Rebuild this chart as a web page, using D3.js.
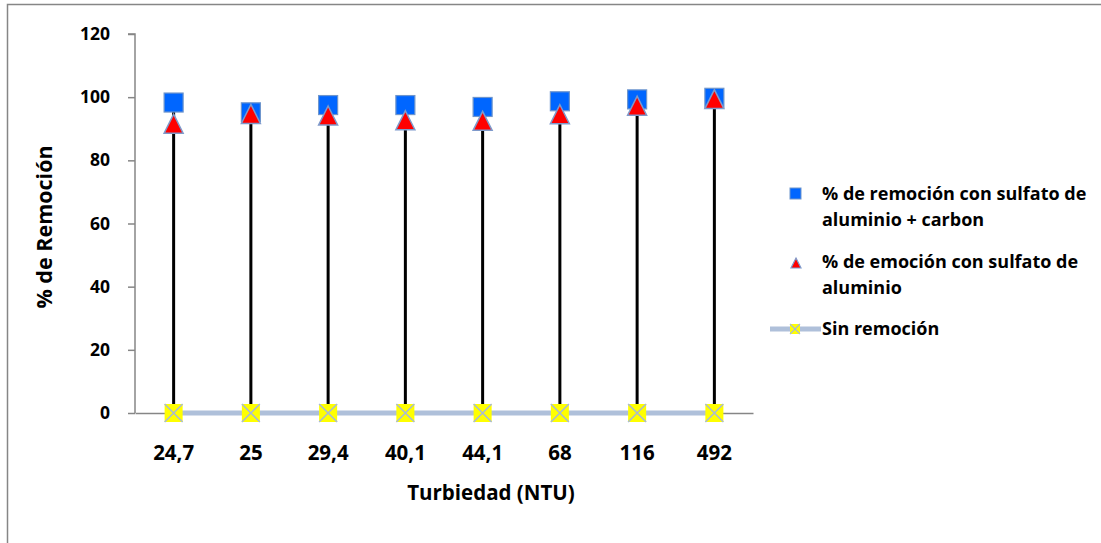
<!DOCTYPE html>
<html>
<head>
<meta charset="utf-8">
<script src="https://cdn.jsdelivr.net/npm/d3@7"></script>
<style>
  html, body { margin: 0; padding: 0; background: #fff; }
  svg { display: block; font-family: "Open Sans", sans-serif; font-weight: bold; }
</style>
</head>
<body>
<svg id="chart" width="1101" height="543"></svg>
<script>
// Turbidity levels (NTU) used as categories
const categories = ["24,7", "25", "29,4", "40,1", "44,1", "68", "116", "492"];
// % removal with aluminium sulfate + activated carbon
const conCarbon = [98.3, 95.2, 97.5, 97.5, 96.9, 98.7, 99.3, 99.8];
// % removal with aluminium sulfate only
const conSulfato = [91.6, 94.7, 94.2, 92.7, 92.5, 94.6, 97.3, 99.4];
// Baseline with no removal
const sinRemocion = [0, 0, 0, 0, 0, 0, 0, 0];
const yTicks = [0, 20, 40, 60, 80, 100, 120];

const legendLabels = [
  ["% de remoción con sulfato de", "aluminio + carbon"],
  ["% de emoción con sulfato de", "aluminio"],
  ["Sin remoción"]
];

const FONT = "'Open Sans', sans-serif";
const svg = d3.select("#chart");

// chart area frame
svg.append("rect")
  .attr("x", 7.5).attr("y", 4.5)
  .attr("width", 1110).attr("height", 560)
  .attr("fill", "none").attr("stroke", "#868686").attr("stroke-width", 1.5);

const plot = { left: 135, right: 753, top: 34, bottom: 413 };

const x = d3.scaleBand().domain(categories).range([plot.left, plot.right]);
const y = d3.scaleLinear().domain([0, 120]).range([plot.bottom, plot.top]);
const cx = d => x(d) + x.bandwidth() / 2;

// Y axis
const yAxis = svg.append("g")
  .attr("transform", `translate(${plot.left},0)`)
  .call(d3.axisLeft(y).tickValues(yTicks).tickSize(7).tickPadding(18));
yAxis.select(".domain").attr("stroke", "#868686").attr("stroke-width", 1.5)
  .attr("d", `M-7,${y(120)}H0V${y(0)}`);
yAxis.selectAll(".tick line").attr("stroke", "#868686").attr("stroke-width", 1.5);
yAxis.selectAll(".tick text").attr("font-size", 17.5).attr("font-weight", "bold")
  .attr("fill", "#000").attr("font-family", FONT);

// X axis
const xAxis = svg.append("g")
  .attr("transform", `translate(0,${plot.bottom})`)
  .call(d3.axisBottom(x).tickSize(0).tickPadding(32));
xAxis.select(".domain").attr("stroke", "#868686").attr("stroke-width", 1.5);
xAxis.selectAll(".tick text").attr("font-size", 20.5).attr("font-weight", "bold")
  .attr("fill", "#000").attr("font-family", FONT);

// Axis titles
svg.append("text")
  .attr("x", 491).attr("y", 500)
  .attr("text-anchor", "middle").attr("font-size", 20.5).text("Turbiedad (NTU)");
svg.append("text")
  .attr("transform", `translate(52,227) rotate(-90)`)
  .attr("text-anchor", "middle").attr("font-size", 21.5).text("% de Remoción");

// High-low lines between baseline and top series
svg.append("g").selectAll("line")
  .data(categories)
  .join("line")
  .attr("x1", d => cx(d)).attr("x2", d => cx(d))
  .attr("y1", (d, i) => y(d3.min([conCarbon[i], conSulfato[i], sinRemocion[i]])))
  .attr("y2", (d, i) => y(d3.max([conCarbon[i], conSulfato[i], sinRemocion[i]])))
  .attr("stroke", "#000").attr("stroke-width", 3);

// "Sin remoción" line
const line = d3.line().x((d, i) => cx(categories[i])).y(d => y(d));
svg.append("path").datum(sinRemocion)
  .attr("d", line).attr("fill", "none")
  .attr("stroke", "#AFC0DA").attr("stroke-width", 5);

const sq = 19;
// Square markers
svg.append("g").selectAll("rect")
  .data(conCarbon)
  .join("rect")
  .attr("x", (d, i) => cx(categories[i]) - sq / 2)
  .attr("y", d => y(d) - sq / 2)
  .attr("width", sq).attr("height", sq)
  .attr("fill", "#0066FF").attr("stroke", "#6E95CC").attr("stroke-width", 1.2);

// Triangle markers
const tri = (cxv, cyv, s) => `M${cxv},${cyv - s / 2}L${cxv + s / 2},${cyv + s / 2}L${cxv - s / 2},${cyv + s / 2}Z`;
svg.append("g").selectAll("path")
  .data(conSulfato)
  .join("path")
  .attr("d", (d, i) => tri(cx(categories[i]), y(d), 19))
  .attr("fill", "#FF0000").attr("stroke", "#7F9ACB").attr("stroke-width", 1.5);

// X markers on the baseline
const xm = 18;
const xGroup = svg.append("g").selectAll("g")
  .data(sinRemocion)
  .join("g")
  .attr("transform", (d, i) => `translate(${cx(categories[i])},${y(d)})`);
xGroup.append("rect")
  .attr("x", -xm / 2).attr("y", -xm / 2).attr("width", xm).attr("height", xm)
  .attr("fill", "#FFFF00");
xGroup.append("path")
  .attr("d", `M${-xm / 2},${-xm / 2}L${xm / 2},${xm / 2}M${xm / 2},${-xm / 2}L${-xm / 2},${xm / 2}`)
  .attr("stroke", "#A7B9D6").attr("stroke-width", 1.5);

// Legend
const legend = svg.append("g");
const lx = 822;
const entryY = [194, 262, 329];
legendLabels.forEach((lines, k) => {
  const t = legend.append("text").attr("x", lx).attr("y", entryY[k] + 6).attr("font-size", 18);
  lines.forEach((s, j) => t.append("tspan").attr("x", lx).attr("dy", j === 0 ? 0 : 26).text(s));
});
legend.append("rect")
  .attr("x", 790).attr("y", entryY[0] - 6).attr("width", 11).attr("height", 11)
  .attr("fill", "#0066FF").attr("stroke", "#6E95CC");
legend.append("path")
  .attr("d", tri(796, entryY[1] + 1, 10))
  .attr("fill", "#FF0000").attr("stroke", "#7F9ACB").attr("stroke-width", 1.2);
legend.append("line")
  .attr("x1", 770).attr("x2", 821).attr("y1", entryY[2]).attr("y2", entryY[2])
  .attr("stroke", "#AFC0DA").attr("stroke-width", 5);
legend.append("rect")
  .attr("x", 790).attr("y", entryY[2] - 5).attr("width", 10).attr("height", 10)
  .attr("fill", "#FFFF00");
legend.append("path")
  .attr("d", `M790,${entryY[2] - 5}L800,${entryY[2] + 5}M800,${entryY[2] - 5}L790,${entryY[2] + 5}`)
  .attr("stroke", "#A7B9D6").attr("stroke-width", 1.2);
</script>
</body>
</html>
